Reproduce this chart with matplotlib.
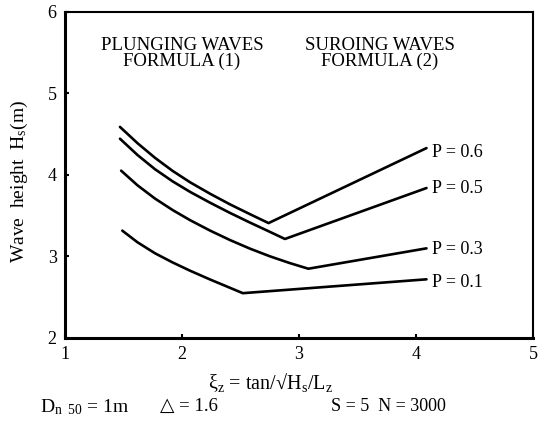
import matplotlib
matplotlib.use("Agg")
import matplotlib.pyplot as plt

plt.rcParams['font.family'] = ['Liberation Serif', 'DejaVu Serif']
plt.rcParams['mathtext.fontset'] = 'custom'
plt.rcParams['mathtext.rm'] = 'Liberation Serif'
plt.rcParams['mathtext.it'] = 'Liberation Serif:italic'

# Breaker parameter xi_z and stable wave height Hs for each damage probability P
p_labels = ["P = 0.6", "P = 0.5", "P = 0.3", "P = 0.1"]
xi_p06 = [1.47, 1.62, 1.77, 1.92, 2.07, 2.24, 2.41, 2.58, 2.74, 4.09]
hs_p06 = [4.59, 4.39, 4.21, 4.05, 3.91, 3.77, 3.64, 3.52, 3.41, 4.33]
xi_p05 = [1.47, 1.62, 1.77, 1.92, 2.07, 2.24, 2.41, 2.58, 2.74, 2.88, 4.09]
hs_p05 = [4.445, 4.245, 4.07, 3.922, 3.792, 3.66, 3.535, 3.417, 3.31, 3.215, 3.84]
xi_p03 = [1.48, 1.62, 1.77, 1.92, 2.07, 2.24, 2.41, 2.58, 2.75, 2.92, 3.08, 4.09]
hs_p03 = [4.053, 3.873, 3.71, 3.57, 3.445, 3.318, 3.202, 3.097, 3.003, 2.92, 2.85, 3.10]
xi_p01 = [1.49, 1.62, 1.77, 1.92, 2.07, 2.24, 2.41, 2.52, 4.09]
hs_p01 = [3.317, 3.174, 3.039, 2.927, 2.825, 2.718, 2.616, 2.55, 2.72]
label_dy = [-0.05, 0.0, -0.02, -0.04]

x_ticks = [1, 2, 3, 4, 5]
y_ticks = [2, 3, 4, 5, 6]

fig = plt.figure(figsize=(5.54, 4.34), dpi=100)
ax = fig.add_axes([0.1173, 0.2212, 0.8447, 0.7512])

series = [(xi_p06, hs_p06), (xi_p05, hs_p05), (xi_p03, hs_p03), (xi_p01, hs_p01)]
for (xs, ys), lab, dy in zip(series, p_labels, label_dy):
    ax.plot(xs, ys, color='black', lw=1.9, solid_joinstyle='round',
            solid_capstyle='round')
    ax.text(xs[-1] + 0.05, ys[-1] + dy, lab, fontsize=13, va='center', ha='left')

ax.set_xlim(1, 5)
ax.set_ylim(2, 6)
ax.set_xticks(x_ticks)
ax.set_yticks(y_ticks)
ax.tick_params(direction='in', length=3, width=1.5, labelsize=13, pad=6)

for side in ['left', 'bottom']:
    ax.spines[side].set_linewidth(2.2)
for side in ['top', 'right']:
    ax.spines[side].set_linewidth(1.5)

ax.text(0.25, 0.873, "PLUNGING WAVES\nFORMULA (1)", transform=ax.transAxes,
        ha='center', va='center', fontsize=13.5, linespacing=0.95)
ax.text(0.673, 0.873, "SUROING WAVES\nFORMULA (2)", transform=ax.transAxes,
        ha='center', va='center', fontsize=13.5, linespacing=0.95)

ax.set_ylabel(r"Wave  height  H$_\mathrm{s}$(m)", fontsize=14)
ax.yaxis.set_label_coords(-0.075, 0.48)
ax.set_xlabel(r"$\mathrm{\xi_z}$ = tan/√H$_\mathrm{s}$/L$_\mathrm{z}$", fontsize=14.5)
ax.xaxis.set_label_coords(0.44, -0.1)

fig.text(0.072, 0.063, r"D$_\mathrm{n\ \ 50}$ = 1m", fontsize=14,
         ha='left', va='center')
fig.text(0.289, 0.063, "△ = 1.6", fontsize=13.5, ha='left', va='center',
         family=['Liberation Serif', 'DejaVu Sans'])
fig.text(0.598, 0.063, "S = 5  N = 3000", fontsize=13, ha='left', va='center')

fig.savefig("out.png", dpi=100)
